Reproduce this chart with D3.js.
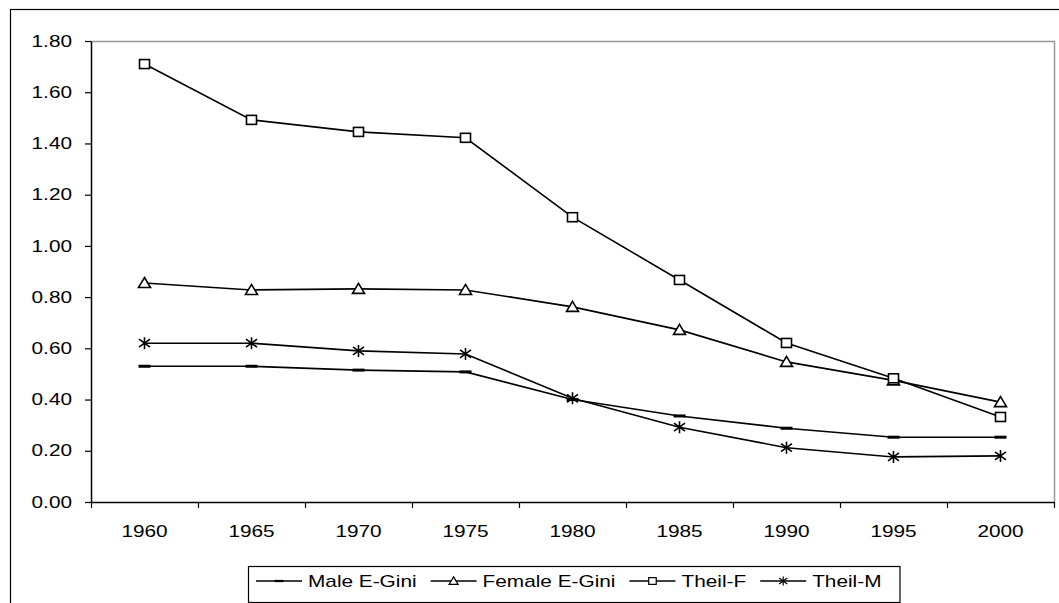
<!DOCTYPE html>
<html>
<head>
<meta charset="utf-8">
<script src="https://cdn.jsdelivr.net/npm/d3@7"></script>
<style>
  body { margin: 0; background: #fff; }
  svg { display: block; font-family: "Liberation Sans", Arial, sans-serif; }
</style>
</head>
<body>
<div id="chart"></div>
<script>
// data
var years = ["1960", "1965", "1970", "1975", "1980", "1985", "1990", "1995", "2000"];
var maleGini = [0.53, 0.53, 0.515, 0.508, 0.40, 0.336, 0.288, 0.253, 0.253];
var femaleGini = [0.855, 0.828, 0.832, 0.828, 0.762, 0.672, 0.547, 0.475, 0.39];
var theilF = [1.71, 1.492, 1.445, 1.422, 1.112, 0.867, 0.621, 0.483, 0.332];
var theilM = [0.62, 0.62, 0.59, 0.578, 0.405, 0.292, 0.212, 0.176, 0.18];
var yTicks = [0, 0.2, 0.4, 0.6, 0.8, 1.0, 1.2, 1.4, 1.6, 1.8];

var series = [
  { name: "Male E-Gini", values: maleGini, marker: "dash" },
  { name: "Female E-Gini", values: femaleGini, marker: "triangle" },
  { name: "Theil-F", values: theilF, marker: "square" },
  { name: "Theil-M", values: theilM, marker: "star" }
];

var width = 1059, height = 603;
var plot = { left: 91, top: 41, right: 1054, bottom: 502 };
var stretch = 1.3; // text in the original is horizontally stretched

var svg = d3.select("#chart").append("svg")
  .attr("width", width)
  .attr("height", height);

// outer chart border
svg.append("rect")
  .attr("x", 10.5).attr("y", 9.5)
  .attr("width", 1100).attr("height", 700)
  .attr("fill", "none").attr("stroke", "#000").attr("stroke-width", 1.2);

var x = d3.scaleBand().domain(years).range([plot.left, plot.right]);
var xEdge = d3.scaleLinear().domain([0, years.length]).range([plot.left, plot.right]);
var y = d3.scaleLinear().domain([0, 1.8]).range([plot.bottom, plot.top]);

// plot area top & right border (gray)
svg.append("path")
  .attr("d", "M" + plot.left + "," + (plot.top + 0.5) + "H" + (plot.right + 0.5) + "V" + plot.bottom)
  .attr("fill", "none").attr("stroke", "#999").attr("stroke-width", 1.5);

// y axis
var yAxis = svg.append("g")
  .attr("transform", "translate(" + plot.left + ",0)")
  .call(d3.axisLeft(y).tickValues(yTicks).tickFormat(d3.format(".2f")).tickSize(6).tickSizeOuter(0));
yAxis.select(".domain").attr("stroke-width", 1.5);
yAxis.selectAll(".tick line").attr("stroke-width", 1.2);
yAxis.selectAll("text")
  .attr("font-size", 16).attr("fill", "#000")
  .attr("x", -19 / stretch)
  .attr("transform", "scale(" + stretch + ",1)");

// x axis: ticks at category edges, labels at centers
var xTicks = svg.append("g")
  .attr("transform", "translate(0," + plot.bottom + ")")
  .call(d3.axisBottom(xEdge).tickValues(d3.range(years.length + 1)).tickFormat("").tickSize(6).tickSizeOuter(0));
xTicks.select(".domain").attr("stroke-width", 1.5);
xTicks.selectAll(".tick line").attr("stroke-width", 1.2);

var xLabels = svg.append("g")
  .attr("transform", "translate(0," + plot.bottom + ")")
  .call(d3.axisBottom(x).tickSize(0));
xLabels.select(".domain").remove();
xLabels.selectAll("text")
  .attr("font-size", 16).attr("fill", "#000")
  .attr("y", 35).attr("dy", 0)
  .attr("transform", "scale(" + stretch + ",1)");

// marker drawing
function drawMarker(g, type) {
  if (type === "dash") {
    g.append("rect").attr("x", -6).attr("y", -1.5).attr("width", 12).attr("height", 3).attr("fill", "#000");
  } else if (type === "triangle") {
    g.append("path").attr("d", "M0,-5.5L6,4.5L-6,4.5Z")
      .attr("fill", "#fff").attr("stroke", "#000").attr("stroke-width", 1.6);
  } else if (type === "square") {
    g.append("rect").attr("x", -5).attr("y", -4.5).attr("width", 10).attr("height", 9)
      .attr("fill", "#fff").attr("stroke", "#000").attr("stroke-width", 1.6);
  } else if (type === "star") {
    g.append("path").attr("d", "M0,-6V6M-5.5,-4L5.5,4M-5.5,4L5.5,-4")
      .attr("fill", "none").attr("stroke", "#000").attr("stroke-width", 1.6);
  }
}

var line = d3.line()
  .x(function(d, i) { return x(years[i]) + x.bandwidth() / 2; })
  .y(function(d) { return y(d); });

series.forEach(function(s) {
  svg.append("path")
    .datum(s.values)
    .attr("d", line)
    .attr("fill", "none")
    .attr("stroke", "#000")
    .attr("stroke-width", 1.6);
});

series.forEach(function(s) {
  s.values.forEach(function(v, i) {
    var g = svg.append("g")
      .attr("transform", "translate(" + (x(years[i]) + x.bandwidth() / 2) + "," + y(v) + ")");
    drawMarker(g, s.marker);
  });
});

// legend
var legend = svg.append("g");
var legendBox = legend.append("rect")
  .attr("fill", "#fff").attr("stroke", "#000").attr("stroke-width", 1.2);
var lx = 256, ly = 581;
series.forEach(function(s) {
  legend.append("line")
    .attr("x1", lx).attr("x2", lx + 46).attr("y1", ly).attr("y2", ly)
    .attr("stroke", "#000").attr("stroke-width", 1.6);
  var m = legend.append("g").attr("transform", "translate(" + (lx + 23) + "," + ly + ") scale(0.75)");
  drawMarker(m, s.marker);
  var t = legend.append("text")
    .attr("font-size", 16)
    .attr("x", (lx + 52) / stretch)
    .attr("y", ly + 6)
    .attr("transform", "scale(" + stretch + ",1)")
    .text(s.name);
  lx = lx + 52 + t.node().getComputedTextLength() * stretch + 14;
});
legendBox
  .attr("x", 248.5).attr("y", 566.5)
  .attr("width", lx - 248 + 4).attr("height", 36);
</script>
</body>
</html>
